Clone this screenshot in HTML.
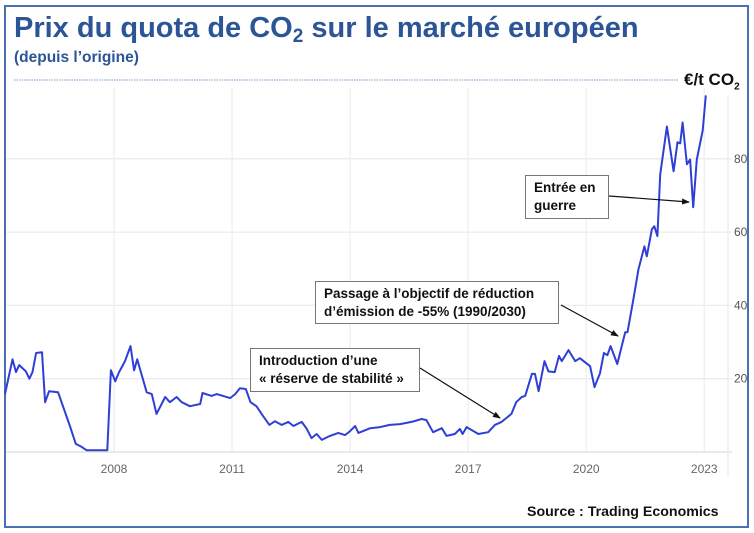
<!DOCTYPE html>
<html><head><meta charset="utf-8">
<style>
html,body{margin:0;padding:0;background:#fff;}
body{width:754px;height:533px;position:relative;overflow:hidden;font-family:"Liberation Sans",sans-serif;}
.frame{position:absolute;left:4px;top:5px;width:741px;height:519px;border:2px solid #4a6fb5;box-sizing:content-box;}
.title{position:absolute;left:14px;top:12px;font-size:29px;font-weight:bold;color:#2c5597;white-space:nowrap;}
.title sub{font-size:19px;vertical-align:-5px;}
.subtitle{position:absolute;left:14px;top:49px;font-size:15.5px;font-weight:bold;color:#2c5597;}
.ann{position:absolute;border:1.5px solid #777;background:#fff;font-size:13.5px;font-weight:bold;color:#111;line-height:18px;padding:3px 8px;box-sizing:border-box;white-space:nowrap;}
.unit{position:absolute;left:684px;top:70px;font-size:17px;font-weight:bold;color:#111;}
.unit sub{font-size:10px;}
.source{position:absolute;left:527px;top:504px;font-size:14.2px;font-weight:bold;color:#111;}
svg{position:absolute;left:0;top:0;}
</style></head>
<body>
<div class="frame"></div>
<div class="title">Prix du quota de CO<sub>2</sub> sur le marché européen</div>
<div class="subtitle">(depuis l’origine)</div>
<svg id="chart" width="754" height="533"></svg>
<div class="unit">€/t CO<sub>2</sub></div>
<div class="ann" style="left:315px;top:281px;width:244px;height:43px;">Passage à l’objectif de réduction<br>d’émission de -55% (1990/2030)</div>
<div class="ann" style="left:250px;top:348px;width:170px;height:44px;">Introduction d’une<br>« réserve de stabilité »</div>
<div class="ann" style="left:525px;top:175px;width:84px;height:44px;">Entrée en<br>guerre</div>
<div class="source">Source : Trading Economics</div>
<script>
const years = [2005.23,2005.42,2005.51,2005.59,2005.76,2005.85,2005.93,2006.02,2006.17,2006.25,2006.35,2006.58,2006.88,2007.03,2007.18,2007.3,2007.83,2007.92,2008.03,2008.13,2008.28,2008.42,2008.51,2008.59,2008.83,2008.96,2009.08,2009.3,2009.42,2009.59,2009.72,2009.93,2010.19,2010.25,2010.48,2010.61,2010.95,2011.08,2011.2,2011.35,2011.47,2011.62,2011.79,2011.95,2012.09,2012.26,2012.43,2012.56,2012.77,2012.9,2013.02,2013.15,2013.28,2013.49,2013.7,2013.87,2014.0,2014.13,2014.21,2014.51,2014.76,2015.01,2015.27,2015.56,2015.82,2015.94,2016.11,2016.33,2016.45,2016.66,2016.79,2016.86,2016.96,2017.26,2017.51,2017.68,2017.85,2018.1,2018.22,2018.36,2018.45,2018.62,2018.7,2018.79,2018.94,2019.04,2019.2,2019.31,2019.38,2019.55,2019.72,2019.84,2020.1,2020.21,2020.35,2020.45,2020.54,2020.62,2020.79,2020.99,2021.05,2021.2,2021.33,2021.48,2021.54,2021.67,2021.73,2021.81,2021.88,2022.05,2022.22,2022.32,2022.39,2022.45,2022.56,2022.64,2022.72,2022.81,2022.96,2023.04];
const prices = [15.8,25.3,21.8,23.7,22,20,21.8,27,27.2,13.6,16.6,16.3,7.1,2.2,1.4,0.5,0.5,22.3,19.3,21.8,24.8,28.9,22.3,25.3,16.3,15.8,10.4,15,13.6,15,13.6,12.5,13.1,16.1,15.3,15.8,14.7,15.8,17.4,17.2,13.6,12.5,9.8,7.4,8.4,7.4,8.2,7.1,8.2,6.3,3.8,4.9,3.3,4.4,5.2,4.6,5.7,7.1,5.2,6.5,6.8,7.4,7.6,8.2,9,8.7,5.4,6.5,4.4,4.9,6.3,4.9,6.8,4.9,5.4,7.4,8.2,10.4,13.6,15,15.3,21.3,21.3,16.6,24.8,22,21.8,26.2,24.8,27.8,24.8,25.6,23.4,17.7,21.5,27,26.4,28.9,24,32.7,32.7,41.7,49.9,56.1,53.4,60.8,61.6,58.9,75.7,88.8,76.6,84.5,84.2,89.9,78.5,79.8,66.8,79.8,87.7,97.3];
const xTicks = [2008,2011,2014,2017,2020,2023];
const yTicks = [20,40,60,80];

const NS='http://www.w3.org/2000/svg';
const svg=document.getElementById('chart');
const X0=6, X1=728, Y0=452;
function xs(y){return 114+(y-2008)*39.35;}
function ys(v){return Y0-v*3.665;}
function el(t,a,p){const e=document.createElementNS(NS,t);for(const k in a)e.setAttribute(k,a[k]);(p||svg).appendChild(e);return e;}

const topLine=el('line',{x1:14,y1:80,x2:678,y2:80,stroke:'#7f9ad0','stroke-width':1,'stroke-dasharray':'1.5,1'});



const grid=el('g',{});


yTicks.forEach(v=>{
  const l=el('line',{x1:X0,x2:X1+4,y1:ys(v),y2:ys(v),stroke:'#ececec','stroke-width':1.3},grid);
  
  
  const t=el('text',{x:734,y:ys(v)+4,'font-size':12,fill:'#555','font-family':'Liberation Sans, sans-serif'});
  t.textContent=v;
  
  
});
xTicks.forEach(y=>{
  const l=el('line',{x1:xs(y),x2:xs(y),y1:88,y2:Y0,stroke:'#efefef','stroke-width':1.3},grid);
  
  
  const t=el('text',{x:xs(y),y:473,'font-size':12,fill:'#666','text-anchor':'middle','font-family':'Liberation Sans, sans-serif'});
  t.textContent=y;
  
  
});
const base=el('line',{x1:X0,x2:X1+4,y1:Y0,y2:Y0,stroke:'#e2e2e2','stroke-width':1.5});


const ra=el('line',{x1:X1,x2:X1,y1:95,y2:Y0+25,stroke:'#ececec','stroke-width':1.3});



const pts=years.map((y,i)=>xs(y).toFixed(1)+','+ys(prices[i]).toFixed(1)).join(' ');
const line=el('polyline',{points:pts,fill:'none',stroke:'#2f3fd6','stroke-width':2,'stroke-linejoin':'round'});



el('defs',{}).innerHTML='<marker id="ah" markerWidth="8" markerHeight="8" refX="7" refY="4" orient="auto" markerUnits="userSpaceOnUse"><path d="M0,1 L8,4 L0,7 z" fill="#111"/></marker>';
[[420,368,500,418,'arrow-stability-reserve'],[561,305,618,336,'arrow-objective-55'],[609,196,689,202,'arrow-war']].forEach(a=>{
  const l=el('line',{x1:a[0],y1:a[1],x2:a[2],y2:a[3],stroke:'#111','stroke-width':1.2,'marker-end':'url(#ah)'});
  
  
});
</script>
</body></html>
